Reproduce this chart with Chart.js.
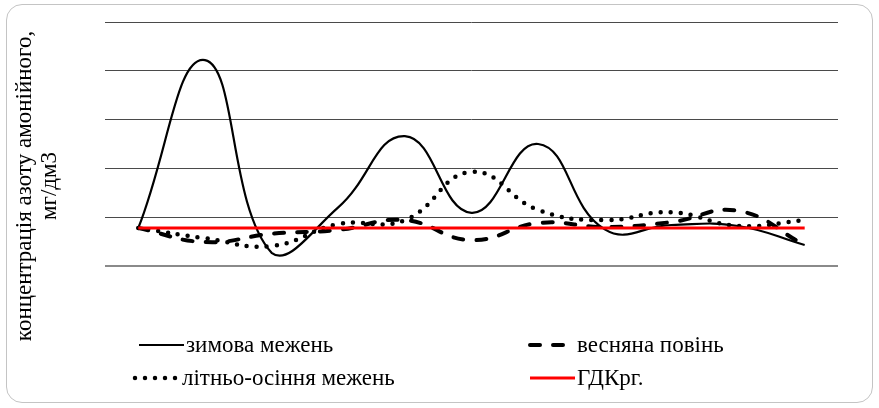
<!DOCTYPE html>
<html>
<head>
<meta charset="utf-8">
<script src="https://cdn.jsdelivr.net/npm/chart.js@4.4.1/dist/chart.umd.min.js"></script>
<style>
  html, body { margin: 0; padding: 0; background: #fff; }
  #frame {
    position: absolute; left: 6px; top: 4px; width: 867px; height: 399px;
    border: 1px solid #c4c4c4; border-radius: 16px; box-sizing: border-box;
  }
  #chart { position: absolute; left: 0; top: 0; }
</style>
</head>
<body>
<div id="frame"></div>
<canvas id="chart" width="879" height="408"></canvas>
<script>
/* ── DATA ───────────────────────────────────────────── */
const categories = ['1', '2', '3', '4', '5', '6', '7', '8', '9', '10', '11'];
const winterLow       = [0.78, 4.22, 0.27, 1.20, 2.66, 1.09, 2.50, 0.75, 0.84, 0.82, 0.43];
const springFlood     = [0.78, 0.49, 0.66, 0.74, 0.94, 0.53, 0.88, 0.80, 0.90, 1.13, 0.43];
const summerAutumnLow = [0.78, 0.57, 0.41, 0.86, 0.94, 1.93, 1.15, 0.94, 1.10, 0.82, 0.94];
const mpcFishery      = [0.78, 0.78, 0.78, 0.78, 0.78, 0.78, 0.78, 0.78, 0.78, 0.78, 0.78];

const yTitle = ['концентрація азоту амонійного,', 'мг/дм3'];
const SERIF = '"Liberation Serif", "DejaVu Serif", serif';

/* ── LEGEND (drawn by hand, two columns) ────────────── */
const legendSlots = [
  { ds: 1, label: 'зимова межень',        x: 139, y: 345 },
  { ds: 2, label: 'весняна повінь',       x: 530, y: 345 },
  { ds: 3, label: 'літньо-осіння межень', x: 135, y: 378 },
  { ds: 0, label: 'ГДКрг.',               x: 530, y: 378 }
];

const legendPlugin = {
  id: 'manual-legend',
  afterDraw(chart) {
    const { ctx } = chart;
    ctx.save();
    legendSlots.forEach(s => {
      const ds = chart.data.datasets[s.ds];
      ctx.beginPath();
      ctx.strokeStyle = ds.borderColor;
      ctx.lineWidth = ds.borderWidth;
      ctx.lineCap = ds.borderCapStyle || 'butt';
      ctx.setLineDash(ds.borderDash || []);
      ctx.moveTo(s.x, s.y);
      ctx.lineTo(s.x + 45, s.y);
      ctx.stroke();
      ctx.setLineDash([]);
      ctx.fillStyle = '#000';
      ctx.font = '23px ' + SERIF;
      ctx.textAlign = 'left';
      ctx.textBaseline = 'middle';
      ctx.fillText(s.label, s.x + 47, s.y + 1);
    });
    ctx.restore();
  }
};

const yTitlePlugin = {
  id: 'y-title',
  afterDraw(chart) {
    const { ctx } = chart;
    ctx.save();
    ctx.translate(25, 186);
    ctx.rotate(-Math.PI / 2);
    ctx.fillStyle = '#000';
    ctx.font = '23px ' + SERIF;
    ctx.textAlign = 'center';
    ctx.textBaseline = 'middle';
    ctx.fillText(yTitle[0], 0, 0);
    ctx.fillText(yTitle[1], 0, 25);
    ctx.restore();
  }
};

/* ── CHART ──────────────────────────────────────────── */
const ctx = document.getElementById('chart').getContext('2d');
new Chart(ctx, {
  type: 'line',
  data: {
    labels: categories,
    datasets: [
      {
        label: 'ГДКрг.',
        data: mpcFishery,
        borderColor: '#ff0000',
        borderWidth: 3,
        tension: 0,
        pointRadius: 0
      },
      {
        label: 'зимова межень',
        data: winterLow,
        borderColor: '#000',
        borderWidth: 2.2,
        tension: 0.45,
        pointRadius: 0
      },
      {
        label: 'весняна повінь',
        data: springFlood,
        borderColor: '#000',
        borderWidth: 4,
        borderDash: [10, 13],
        borderCapStyle: 'round',
        tension: 0.45,
        pointRadius: 0
      },
      {
        label: 'літньо-осіння межень',
        data: summerAutumnLow,
        borderColor: '#000',
        borderWidth: 4.5,
        borderDash: [0, 10],
        borderCapStyle: 'round',
        tension: 0.45,
        pointRadius: 0
      }
    ]
  },
  options: {
    responsive: false,
    animation: false,
    devicePixelRatio: 1,
    layout: { padding: { left: 105, right: 41, top: 22, bottom: 142 } },
    plugins: {
      legend: { display: false },
      tooltip: { enabled: false }
    },
    scales: {
      x: {
        offset: true,
        ticks: { display: false },
        grid: { display: false, drawTicks: false },
        border: { display: false }
      },
      y: {
        min: 0,
        max: 5,
        ticks: { display: false, stepSize: 1 },
        grid: {
          drawTicks: false,
          color: c => c.tick.value === 0 ? '#8a8a8a' : '#4a4a4a',
          lineWidth: c => c.tick.value === 0 ? 2 : 1
        },
        border: { display: false }
      }
    }
  },
  plugins: [legendPlugin, yTitlePlugin]
});
</script>
</body>
</html>
